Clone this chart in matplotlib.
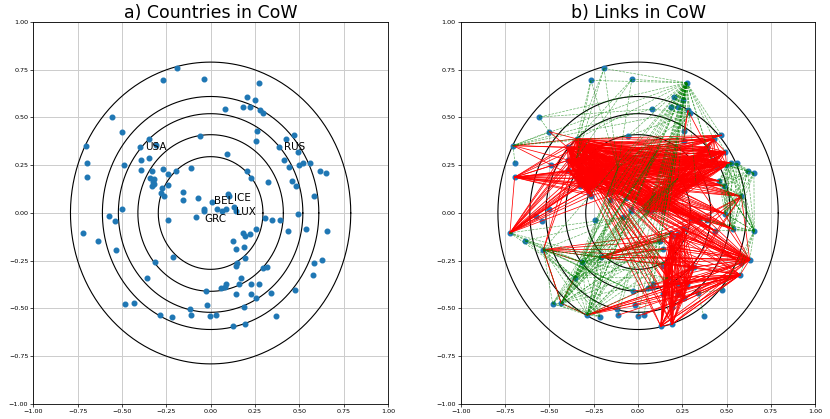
import itertools
import numpy as np
import matplotlib
matplotlib.use('Agg')
import matplotlib.pyplot as plt

# coordenadas de los paises
xs = [-0.192, -0.266, -0.035, -0.558, -0.500, -0.705, -0.694, -0.696, -0.489, -0.346,
      -0.397, -0.307, -0.346, -0.393, -0.393, -0.330, -0.270, -0.238, -0.195, -0.113,
      -0.342, -0.317, -0.325, -0.317, -0.330, -0.274, -0.242, -0.279, -0.265, -0.158,
      -0.156, -0.070, 0.008, -0.040, -0.040, -0.502, -0.057,
      0.274, 0.203, 0.251, 0.079, 0.184, 0.223, 0.281, 0.294, 0.259,
      0.257, 0.427, 0.470, 0.388, 0.492, 0.094, 0.414, 0.442, 0.498, 0.522,
      0.558, 0.617, 0.653, 0.203, 0.225, 0.326, 0.457, 0.483, 0.582, 0.098,
      0.102, 0.038, 0.066, 0.087, 0.133, 0.141, 0.490,
      -0.573, -0.541, -0.722, -0.636, -0.534, -0.240, -0.085, -0.210, -0.315, -0.358,
      -0.481, -0.433, -0.027, -0.018, -0.119, -0.287, -0.216, -0.113, -0.001,
      0.304, 0.346, 0.390, 0.257, 0.184, 0.195, 0.223, 0.434, 0.535, 0.655,
      0.124, 0.189, 0.143, 0.195, 0.150, 0.143, 0.293, 0.318, 0.580, 0.629,
      0.575, 0.169, 0.085, 0.057, 0.080, 0.160, 0.225, 0.274, 0.475, 0.143,
      0.225, 0.257, 0.339, 0.189, 0.033, 0.369, 0.128, 0.192]
ys = [0.757, 0.694, 0.700, 0.502, 0.426, 0.353, 0.263, 0.187, 0.249, 0.388,
      0.343, 0.358, 0.289, 0.277, 0.223, 0.221, 0.229, 0.204, 0.220, 0.237,
      0.182, 0.178, 0.161, 0.151, 0.143, 0.130, 0.147, 0.104, 0.090, 0.111,
      0.069, 0.078, 0.057, 0.021, 0.008, 0.019, 0.403,
      0.682, 0.606, 0.594, 0.544, 0.554, 0.557, 0.537, 0.523, 0.431,
      0.379, 0.385, 0.407, 0.345, 0.320, 0.308, 0.279, 0.242, 0.251, 0.263,
      0.260, 0.218, 0.208, 0.221, 0.182, 0.161, 0.168, 0.142, 0.087, 0.100,
      0.090, 0.022, 0.012, 0.019, 0.033, 0.012, -0.004,
      -0.016, -0.040, -0.104, -0.146, -0.192, -0.038, -0.023, -0.232, -0.258, -0.338,
      -0.475, -0.473, -0.409, -0.480, -0.501, -0.534, -0.542, -0.535, -0.540,
      -0.026, -0.036, -0.036, -0.083, -0.104, -0.123, -0.108, -0.092, -0.085, -0.094,
      -0.146, -0.179, -0.190, -0.234, -0.260, -0.275, -0.286, -0.283, -0.260, -0.244,
      -0.324, -0.340, -0.371, -0.392, -0.390, -0.374, -0.373, -0.373, -0.402, -0.423,
      -0.424, -0.447, -0.418, -0.492, -0.532, -0.537, -0.592, -0.582]

# etiquetas de algunos paises
etiquetas = ['USA', 'RUS', 'BEL', 'ICE', 'LUX', 'GRC']
etiq_x = [-0.31, 0.474, 0.073, 0.182, 0.198, 0.025]
etiq_y = [0.345, 0.343, 0.064, 0.078, 0.007, -0.030]

# radios de los circulos
radios = [0.295, 0.41, 0.52, 0.61, 0.79]

# grupos de paises usados por las alianzas
america = [9, 10, 11, 12, 13, 14, 15, 16, 17, 18, 20, 21, 22, 23, 24, 25, 26, 27, 28]
hubs_america = [9, 10, 11, 12, 13, 15, 20, 22]
derecha = [50, 49, 47, 48, 52, 53, 54, 55, 61, 62, 63, 72, 92, 93, 94, 64, 99, 100, 110, 111]
abajo = [96, 103, 106, 108, 113, 117, 121, 123, 128, 129]
centro = [32, 65, 66, 67, 68, 69, 70, 71, 59, 60, 61, 19, 29, 31, 51]
sur_oeste = [77, 80, 81, 82, 83, 84, 88, 89]
medio = [31, 79, 19, 30, 65, 51, 60, 102, 96, 68, 113, 106, 104, 34]
oeste = [75, 76, 77]
arriba = [0, 1, 2]

# alianzas de defensa (rojo)
rojo_grupos = [
    america + [7, 75],
    [32, 65, 66, 67, 68, 69, 70, 71, 59, 60, 61, 49, 50, 52, 53, 54, 47],
    [95, 96, 98, 103, 105, 106, 108, 109, 113, 117, 119, 121, 123, 125, 128, 129, 111, 112],
]
rojo_bipartitos = [
    (hubs_america, derecha),
    ([9, 10], abajo),
    ([9, 11, 13], centro),
]
rojo_estrellas = [
    (50, america + [7, 75, 5]),
    (5, [9, 10, 13, 20]),
    (4, [9, 10]),
    (112, [113, 114, 115, 116, 117, 121, 125, 126, 128, 129, 86, 85, 91, 90, 88]),
    (111, [92, 93, 94, 95, 96, 97, 98, 102, 103, 104, 105, 80, 61, 64, 110, 72]),
    (64, [96, 103, 105, 108, 109, 95]),
    (80, [95, 96, 97, 98, 102, 103, 104, 105, 92, 93, 109, 108]),
    (77, [80, 81, 84, 96, 102, 104, 105, 9, 12]),
    (84, [77, 88, 82]),
    (88, [112, 110, 111, 124, 119, 109]),
    (43, [46, 45, 49]),
]

# otras alianzas (verde)
verde_grupos = [
    sur_oeste,
    [54, 55, 56, 57, 58, 64, 63, 62, 101, 100, 72],
]
verde_bipartitos = [
    ([84, 88, 81, 82], medio),
    (oeste, [80, 81, 82, 85, 79]),
    (arriba, [9, 12, 19]),
]
verde_estrellas = [
    (37, [0, 1, 2, 3, 5, 36, 40, 38, 39, 41, 42, 43, 44, 45, 46, 51, 19, 29, 31, 79,
          33, 65, 59, 60, 9, 48, 50, 84, 88, 83, 77, 85, 86, 87, 90, 91,
          126, 114, 115, 116, 78, 102, 104, 47, 49, 52, 61]),
    (5, [36, 40, 9, 43, 4, 6]),
    (3, [40, 4]),
    (44, [36, 40, 51, 46, 19, 31]),
    (101, [64, 72, 100, 99, 110, 111, 62, 63, 94, 93, 112, 120]),
    (124, [127, 120]),
]


def aristas(grupos, bipartitos, estrellas):
    pares = []
    for g in grupos:
        pares += list(itertools.combinations(g, 2))
    for a, b in bipartitos:
        pares += [(i, j) for i in a for j in b if i != j]
    for hub, otros in estrellas:
        pares += [(hub, o) for o in otros if o != hub]
    return pares


def base(ax, titulo):
    ax.scatter(xs, ys, s=11, color='#1f77b4', zorder=2)
    t = np.linspace(0, 2 * np.pi, 400)
    for r in radios:
        ax.plot(r * np.cos(t), r * np.sin(t), color='black', lw=0.8, zorder=1)
    ax.set_xlim(-1, 1)
    ax.set_ylim(-1, 1)
    ticks = np.arange(-1, 1.01, 0.25)
    ax.set_xticks(ticks)
    ax.set_yticks(ticks)
    ax.tick_params(labelsize=4.6, length=2, width=0.5, pad=1.5)
    ax.grid(True, color='#cccccc', lw=0.7)
    ax.set_axisbelow(True)
    for s in ax.spines.values():
        s.set_linewidth(0.6)
    ax.set_title(titulo, fontsize=12.5, pad=3)


fig = plt.figure(figsize=(8.3, 4.19), dpi=100)
ax1 = fig.add_axes([0.040, 0.0358, 0.4275, 0.9117])
ax2 = fig.add_axes([0.555, 0.0358, 0.4275, 0.9117])

base(ax1, 'a) Countries in CoW')
for e, ex, ey in zip(etiquetas, etiq_x, etiq_y):
    ax1.text(ex, ey, e, fontsize=7.5, ha='center', va='center', zorder=3)

base(ax2, 'b) Links in CoW')
for i, j in aristas(rojo_grupos, rojo_bipartitos, rojo_estrellas):
    ax2.plot([xs[i], xs[j]], [ys[i], ys[j]], color='red', lw=0.55, zorder=3)
for i, j in aristas(verde_grupos, verde_bipartitos, verde_estrellas):
    ax2.plot([xs[i], xs[j]], [ys[i], ys[j]], color='green', lw=0.5, ls='--',
             alpha=0.6, zorder=4)

fig.savefig('out.png', dpi=100)
